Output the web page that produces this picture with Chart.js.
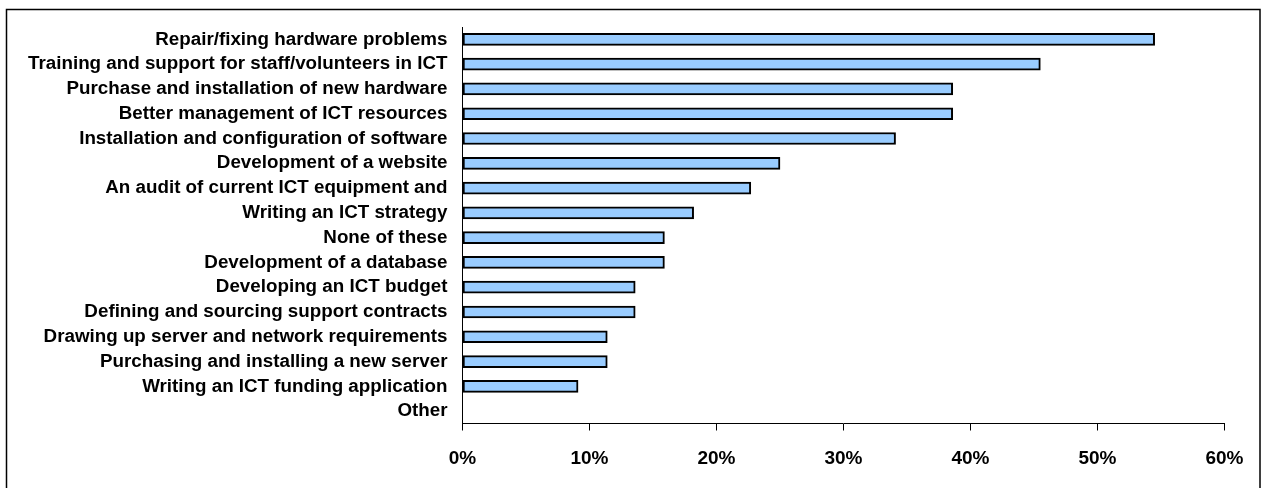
<!DOCTYPE html>
<html>
<head>
<meta charset="utf-8">
<script src="https://cdn.jsdelivr.net/npm/chart.js@4/dist/chart.umd.min.js"></script>
<style>
html,body{margin:0;padding:0;background:#fff;}
#wrap{position:relative;width:1267px;height:488px;}
</style>
</head>
<body>
<div id="wrap"><canvas id="c" width="1267" height="488"></canvas></div>
<script>
const categories = [
  "Repair/fixing hardware problems",
  "Training and support for staff/volunteers in ICT",
  "Purchase and installation of new hardware",
  "Better management of ICT resources",
  "Installation and configuration of software",
  "Development of a website",
  "An audit of current ICT equipment and",
  "Writing an ICT strategy",
  "None of these",
  "Development of a database",
  "Developing an ICT budget",
  "Defining and sourcing support contracts",
  "Drawing up server and network requirements",
  "Purchasing and installing a new server",
  "Writing an ICT funding application",
  "Other"
];
const percentValues = [54.5, 45.5, 38.6, 38.6, 34.1, 25.0, 22.7, 18.2, 15.9, 15.9, 13.6, 13.6, 11.4, 11.4, 9.1, 0];
const xTickValues = [0, 10, 20, 30, 40, 50, 60];

const frame = {
  id: 'frame',
  beforeDraw(chart) {
    const ctx = chart.ctx;
    ctx.save();
    ctx.fillStyle = '#fff';
    ctx.fillRect(0, 0, chart.width, chart.height);
    ctx.strokeStyle = '#000';
    ctx.lineWidth = 1.5;
    ctx.strokeRect(6.5, 9.5, 1253.5, 490);
    ctx.restore();
  }
};

new Chart(document.getElementById('c'), {
  type: 'bar',
  data: {
    labels: categories,
    datasets: [{
      data: percentValues,
      backgroundColor: '#99CCFF',
      borderColor: '#000',
      borderWidth: 2,
      barThickness: 12,
      borderSkipped: false
    }]
  },
  options: {
    indexAxis: 'y',
    responsive: false,
    animation: false,
    devicePixelRatio: 1,
    layout: { padding: { left: 0, top: 27, right: 42.5, bottom: 0 } },
    plugins: { legend: { display: false }, tooltip: { enabled: false } },
    scales: {
      x: {
        min: 0, max: 60,
        afterBuildTicks(scale) { scale.ticks = xTickValues.map(v => ({ value: v })); },
        afterFit(scale) { scale.height = 64.5; },
        grid: { display: true, drawOnChartArea: false, drawTicks: true, tickLength: 7, tickColor: '#000', tickWidth: 1 },
        border: { display: true, color: '#000', width: 1 },
        ticks: {
          color: '#000',
          font: { family: 'Liberation Sans, Arial, sans-serif', size: 19, weight: 'bold' },
          padding: 17,
          maxRotation: 0,
          callback: v => v + '%'
        }
      },
      y: {
        afterFit(scale) { scale.width = 462.5; },
        grid: { display: false, drawTicks: false },
        border: { display: true, color: '#000', width: 1 },
        ticks: {
          color: '#000',
          font: { family: 'Liberation Sans, Arial, sans-serif', size: 18.8, weight: 'bold' },
          padding: 15,
          autoSkip: false
        }
      }
    }
  },
  plugins: [frame]
});
</script>
</body>
</html>
